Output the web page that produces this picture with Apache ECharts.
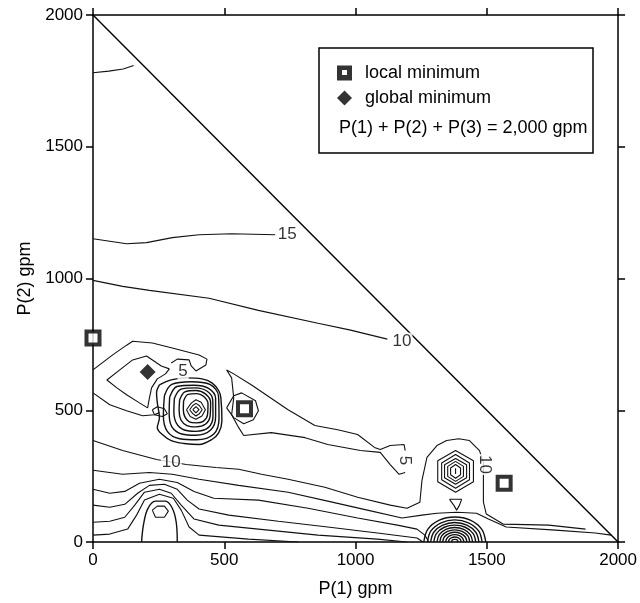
<!DOCTYPE html>
<html>
<head>
	<meta charset="utf-8">
	<title>P(1) / P(2) contour</title>
	<script type="text/javascript" src="https://cdn.jsdelivr.net/npm/echarts@6/dist/echarts.min.js"></script>
</head>
<body style="margin:0;background:#fff">
<div id="main" style="width: 640px; height: 603px"></div>

<script type="text/javascript">
var myChart = echarts.init(document.getElementById('main'));
var FONT = '"Liberation Sans", Arial, sans-serif';

// constraint line P(1) + P(2) = 2000
var diagonal = [[0, 2000], [2000, 0]];

// minima markers
var localMin = [[0, 774], [577, 506], [1566, 223]];
var globalMin = [[208, 645]];

// contour lines, [P(1), P(2)]
var topLeftLine = [[0, 1781], [60, 1787], [115, 1795], [155, 1808]];
var line15 = [[0, 1151], [128, 1132], [204, 1136], [302, 1155], [404, 1166], [528, 1170], [694, 1166]];
var line10Upper = [[0, 993], [113, 970], [215, 955], [442, 925], [630, 879], [857, 830], [981, 804], [1121, 770]];

var globalOuter = [[0, 653], [75, 710], [128, 747], [151, 762], [226, 755], [302, 736], [404, 710], [434, 694],
    [430, 672], [392, 649], [374, 668], [366, 691], [321, 694], [298, 679]];
var globalInner = [[291, 657], [260, 668], [204, 706], [151, 691], [102, 653], [53, 615], [91, 585], [128, 559],
    [177, 528], [208, 509], [215, 547], [223, 585], [245, 619], [276, 638], [291, 657]];
var globalLower = [[0, 566], [64, 521], [128, 498], [189, 479], [234, 483], [253, 491]];
var smallLoop = [[226, 502], [245, 513], [272, 506], [283, 487], [264, 476], [234, 483], [226, 502]];

var midRing1 = [[253, 596], [298, 615], [355, 623], [415, 619], [453, 604], [479, 574], [487, 547], [491, 460],
    [479, 415], [453, 389], [404, 370], [347, 374], [298, 385], [264, 408], [245, 434], [253, 472], [245, 528],
    [242, 566], [253, 596]];
var midRing2 = [[272, 555], [300, 598], [375, 608], [445, 598], [478, 555], [480, 470], [460, 410], [395, 388],
    [330, 392], [283, 420], [268, 480], [272, 555]];
var midRing3 = [[292, 550], [320, 590], [385, 595], [440, 583], [467, 545], [467, 475], [448, 425], [392, 405],
    [338, 410], [300, 438], [290, 490], [292, 550]];
var midRing4 = [[310, 545], [335, 580], [390, 585], [435, 572], [456, 540], [457, 478], [440, 435], [392, 420],
    [348, 425], [318, 450], [308, 495], [310, 545]];
var midRing5 = [[330, 540], [350, 570], [392, 575], [428, 562], [448, 530], [446, 478], [428, 447], [392, 437],
    [358, 442], [335, 463], [328, 500], [330, 540]];
var midRing6 = [[345, 535], [362, 560], [395, 563], [422, 552], [438, 525], [436, 482], [420, 458], [392, 452],
    [367, 456], [350, 475], [344, 502], [345, 535]];
var midRing7 = [[356, 502], [375, 528], [392, 540], [412, 530], [428, 502], [415, 478], [392, 466], [370, 476], [356, 502]];
var midRing8 = [[368, 502], [380, 518], [392, 526], [405, 518], [416, 502], [405, 487], [392, 478], [380, 487], [368, 502]];
var midRing9 = [[380, 502], [392, 514], [404, 502], [392, 490], [380, 502]];

var localRing = [[509, 509], [536, 555], [566, 566], [619, 536], [630, 498], [611, 464], [574, 449], [536, 472], [509, 509]];
var lobe5 = [[1189, 347], [1185, 370], [1132, 366], [1094, 351], [1072, 359], [1008, 408], [932, 426], [845, 442],
    [743, 502], [604, 596], [536, 638], [509, 653], [528, 623], [536, 547], [528, 483], [555, 434], [574, 404],
    [679, 415], [808, 396], [894, 370], [1019, 347], [1094, 340], [1132, 294], [1166, 257], [1189, 264]];

var line10Lower = [[0, 385], [113, 347], [242, 313], [355, 294], [468, 283], [555, 276], [642, 257], [743, 238],
    [883, 208], [1008, 170], [1132, 140], [1196, 128], [1245, 151], [1253, 234], [1272, 321], [1310, 366],
    [1347, 385], [1393, 392], [1434, 385], [1472, 347], [1487, 302], [1487, 245], [1487, 151], [1498, 106],
    [1562, 68], [1736, 64], [1876, 49]];
var line12 = [[0, 272], [113, 257], [215, 264], [302, 257], [404, 238], [555, 215], [743, 189], [894, 155],
    [1045, 121], [1177, 91], [1253, 102], [1310, 109], [1385, 113], [1461, 109], [1506, 87], [1574, 57],
    [1762, 45], [1913, 34], [1974, 26]];
var line14 = [[0, 200], [64, 185], [121, 192], [177, 223], [253, 238], [321, 226], [385, 192], [460, 166],
    [630, 159], [819, 128], [1008, 91], [1159, 64], [1234, 49], [1264, 26], [1279, 0]];
var line16 = [[0, 140], [64, 132], [121, 143], [170, 185], [215, 215], [272, 219], [321, 200], [359, 159],
    [404, 125], [517, 102], [706, 79], [894, 57], [1083, 34], [1234, 15], [1257, 0]];
var line18 = [[0, 75], [64, 79], [121, 94], [159, 140], [196, 189], [253, 200], [298, 185], [336, 140],
    [385, 87], [479, 64], [668, 45], [857, 26], [1083, 11], [1196, 0]];
var line20 = [[0, 26], [64, 30], [132, 49], [166, 102], [196, 159], [253, 181], [306, 166], [336, 121],
    [366, 57], [404, 26], [592, 11], [781, 0]];
var leftArch = [[185, 0], [192, 64], [208, 125], [238, 155], [276, 155], [302, 128], [317, 75], [321, 0]];
var leftCore = [[226, 121], [245, 136], [272, 136], [287, 117], [272, 94], [238, 94], [226, 121]];

var rightRing1 = [[1381, 347], [1449, 308], [1449, 229], [1381, 189], [1313, 229], [1313, 308], [1381, 347]];
var rightRing2 = [[1381, 332], [1434, 300], [1434, 236], [1381, 204], [1328, 236], [1328, 300], [1381, 332]];
var rightRing3 = [[1381, 317], [1423, 293], [1423, 244], [1381, 219], [1339, 244], [1339, 293], [1381, 317]];
var rightRing4 = [[1381, 306], [1411, 287], [1411, 249], [1381, 230], [1351, 249], [1351, 287], [1381, 306]];
var rightRing5 = [[1381, 294], [1400, 281], [1400, 255], [1381, 242], [1362, 255], [1362, 281], [1381, 294]];
var rightDot = [[1381, 280], [1381, 258]];
var triangle = [[1358, 162], [1404, 162], [1396, 140], [1385, 121], [1374, 140], [1358, 162]];

var bottomArc1 = [[1260, 0], [1275, 48], [1319, 83], [1378, 95], [1437, 83], [1481, 48], [1496, 0]];
var bottomArc2 = [[1274, 0], [1287, 42], [1326, 73], [1378, 84], [1430, 73], [1469, 42], [1482, 0]];
var bottomArc3 = [[1286, 0], [1298, 37], [1332, 64], [1378, 74], [1424, 64], [1458, 37], [1470, 0]];
var bottomArc4 = [[1298, 0], [1308, 32], [1338, 56], [1378, 64], [1418, 56], [1448, 32], [1458, 0]];
var bottomArc5 = [[1310, 0], [1319, 28], [1344, 48], [1378, 55], [1412, 48], [1437, 28], [1446, 0]];
var bottomArc6 = [[1321, 0], [1328, 23], [1350, 40], [1378, 46], [1406, 40], [1428, 23], [1435, 0]];
var bottomArc7 = [[1332, 0], [1338, 19], [1355, 32], [1378, 37], [1401, 32], [1418, 19], [1424, 0]];
var bottomArc8 = [[1343, 0], [1348, 14], [1360, 24], [1378, 28], [1396, 24], [1408, 14], [1413, 0]];
var bottomArc9 = [[1354, 0], [1357, 10], [1366, 17], [1378, 19], [1390, 17], [1399, 10], [1402, 0]];
var bottomArc10 = [[1365, 0], [1367, 5], [1371, 9], [1378, 10], [1385, 9], [1389, 5], [1391, 0]];

// contour labels: text, P(1), P(2), rotation
var lineLabels = [
    ['15', 740, 1166, 0],
    ['10', 1177, 762, 0],
    ['10', 298, 302, 0],
    ['5', 343, 649, 0],
    ['5', 1189, 309, -90],
    ['10', 1491, 294, -90]
];

var sharpLines = [topLeftLine, line15, line10Upper, globalOuter, globalInner, globalLower, smallLoop,
    localRing, lobe5, line10Lower, line12, line14, line16, line18, line20, leftCore,
    rightRing1, rightRing2, rightRing3, rightRing4, rightRing5, rightDot, triangle, midRing7, midRing8, midRing9];
var roundLines = [midRing1, midRing2, midRing3, midRing4, midRing5, midRing6, leftArch,
    bottomArc1, bottomArc2, bottomArc3, bottomArc4, bottomArc5, bottomArc6, bottomArc7, bottomArc8,
    bottomArc9, bottomArc10];

var series = [];
sharpLines.forEach(function (d) {
    series.push({type: 'line', data: d, symbol: 'none', silent: true, smooth: false,
        lineStyle: {color: '#111', width: 1.1}, z: 2});
});
roundLines.forEach(function (d) {
    series.push({type: 'line', data: d, symbol: 'none', silent: true, smooth: 0.35,
        lineStyle: {color: '#111', width: 1.4}, z: 2});
});
series.push({type: 'line', data: diagonal, symbol: 'none', silent: true,
    lineStyle: {color: '#000', width: 1.4}, z: 2});
series.push({
    type: 'scatter', silent: true, symbolSize: 0, z: 4,
    data: lineLabels.map(function (l) {
        return {value: [l[1], l[2]], label: {formatter: l[0], rotate: l[3]}};
    }),
    label: {show: true, position: 'inside', color: '#000', fontSize: 17, fontFamily: FONT,
        backgroundColor: '#fff', padding: [0, 1]}
});
series.push({
    name: 'local minimum', type: 'scatter', data: localMin, symbol: 'rect', symbolSize: 13, z: 5,
    itemStyle: {color: '#fff', borderColor: '#000', borderWidth: 4}
});
series.push({
    name: 'global minimum', type: 'scatter', data: globalMin, symbol: 'diamond', symbolSize: 16, z: 5,
    itemStyle: {color: '#000'}
});

var axisLine = {show: true, onZero: false, lineStyle: {color: '#000', width: 1.5}};
var axisTick = {show: true, length: 7, lineStyle: {color: '#000', width: 1.5}};
var axisLabel = {color: '#000', fontSize: 17, fontFamily: FONT, margin: 10,
    formatter: function (v) { return String(v); }};

option = {
    animation: false,
    backgroundColor: '#fff',
    grid: {left: 93, top: 15, width: 530, height: 530},
    legend: {
        data: [
            {name: 'local minimum', itemStyle: {color: '#000', borderColor: '#000', borderWidth: 0}},
            {name: 'global minimum'}
        ],
        orient: 'vertical', left: 337, top: 64, padding: 0,
        itemWidth: 15, itemHeight: 15, itemGap: 7,
        textStyle: {color: '#000', fontSize: 18, fontFamily: FONT, padding: [0, 0, 0, 8]},
        selectedMode: false
    },
    graphic: [
        {type: 'rect', shape: {x: 319, y: 48, width: 274, height: 105},
            style: {fill: 'transparent', stroke: '#000', lineWidth: 1.5}, z: 10},
        {type: 'rect', shape: {x: 342, y: 70, width: 5, height: 5},
            style: {fill: '#fff'}, z: 11},
        {type: 'text', x: 339, y: 119,
            style: {text: 'P(1) + P(2) + P(3) = 2,000 gpm', fill: '#000', font: '18px ' + FONT}, z: 10}
    ],
    xAxis: [{
        type: 'value', position: 'bottom', min: 0, max: 2000, interval: 500,
        name: 'P(1) gpm', nameLocation: 'middle', nameGap: 38,
        nameTextStyle: {color: '#000', fontSize: 18, fontFamily: FONT},
        axisLine: axisLine, axisTick: axisTick, axisLabel: axisLabel, splitLine: {show: false}
    }, {
        type: 'value', position: 'top', min: 0, max: 2000, interval: 500,
        axisLine: axisLine, axisTick: axisTick, axisLabel: {show: false}, splitLine: {show: false}
    }],
    yAxis: [{
        type: 'value', position: 'left', min: 0, max: 2000, interval: 500,
        name: 'P(2) gpm', nameLocation: 'middle', nameGap: 58,
        nameTextStyle: {color: '#000', fontSize: 18, fontFamily: FONT},
        axisLine: axisLine, axisTick: axisTick, axisLabel: axisLabel, splitLine: {show: false}
    }, {
        type: 'value', position: 'right', min: 0, max: 2000, interval: 500,
        axisLine: axisLine, axisTick: axisTick, axisLabel: {show: false}, splitLine: {show: false}
    }],
    series: series
};

myChart.setOption(option);
</script>
</body>
</html>
